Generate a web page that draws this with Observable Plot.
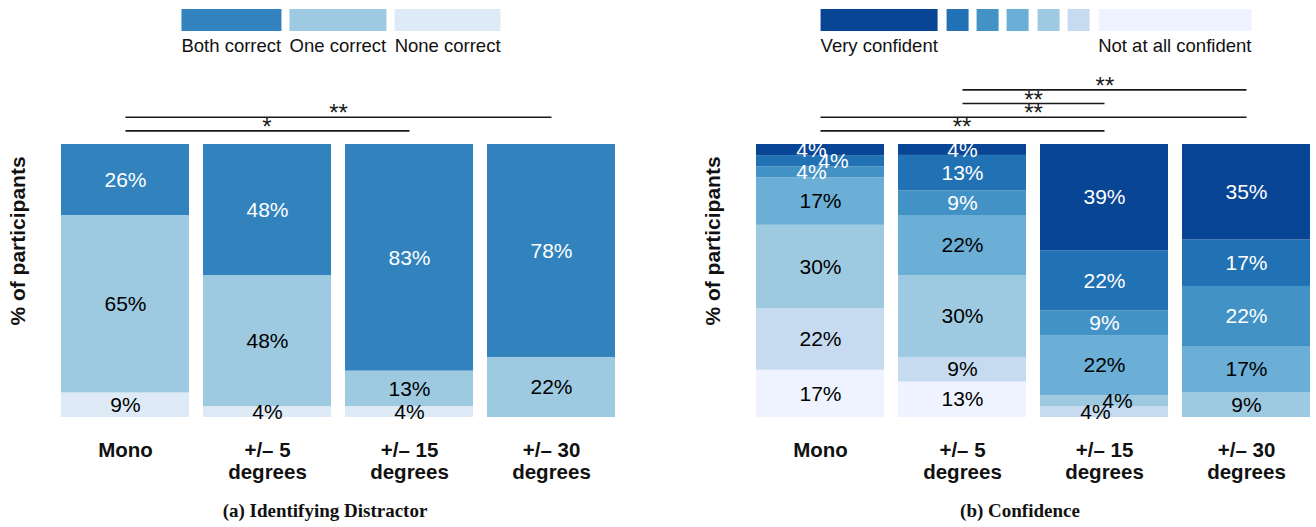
<!DOCTYPE html>
<html>
<head>
<meta charset="utf-8">
<script src="https://cdn.jsdelivr.net/npm/d3@7"></script>
<script src="https://cdn.jsdelivr.net/npm/@observablehq/plot@0.6"></script>
<style>
  html, body { margin: 0; padding: 0; background: #fff; overflow: hidden; }
  #figure { position: relative; width: 1316px; height: 527px; overflow: hidden;
            font-family: "Liberation Sans", Arial, Helvetica, sans-serif; color: #111; }
  .panel { position: absolute; top: 0; width: 631px; height: 527px; }
  .legend { position: absolute; top: 0; height: 60px; display: flex; gap: 8.4px;
            transform: translateX(-50%); white-space: nowrap; }
  .legend .item { display: flex; flex-direction: column; align-items: stretch; }
  .legend .swatch { margin-top: 9px; height: 21.5px; }
  .legend .label { margin-top: 5px; font-size: 18.5px; line-height: 20px; }
  .chart { position: absolute; top: 60px; left: 0; }
  .caption { position: absolute; top: 500px; height: 27px; line-height: 22px;
             font-family: "Liberation Serif", "Times New Roman", serif; font-weight: bold;
             font-size: 19px; transform: translateX(-50%); white-space: nowrap; }
</style>
</head>
<body>
<div id="figure"></div>
<script>
// Conditions shown along the x axis
const groups = ["Mono", "+/– 5\ndegrees", "+/– 15\ndegrees", "+/– 30\ndegrees"];
const yLabel = "% of participants";

// (a) Identifying the distractor: share of participants per outcome
const accuracyLevels = ["Both correct", "One correct", "None correct"];
const bothCorrect = [26, 48, 83, 78];
const oneCorrect  = [65, 48, 13, 22];
const noneCorrect = [9, 4, 4, 0];

// (b) Confidence ratings, 7 = very confident … 1 = not at all confident
const confidenceLevels = [7, 6, 5, 4, 3, 2, 1];
const confidenceEnds = ["Very confident", "Not at all confident"];
const confidence7 = [4, 4, 39, 35];
const confidence6 = [4, 13, 22, 17];
const confidence5 = [4, 9, 9, 22];
const confidence4 = [17, 22, 22, 17];
const confidence3 = [30, 30, 4, 9];
const confidence2 = [22, 9, 4, 0];
const confidence1 = [17, 13, 0, 0];

// Pairwise significance tests, listed from the lowest bracket up
const accuracyTests = [
  {a: "Mono", b: "+/– 15\ndegrees", stars: "*"},
  {a: "Mono", b: "+/– 30\ndegrees", stars: "**"}
];
const confidenceTests = [
  {a: "Mono", b: "+/– 15\ndegrees", stars: "**"},
  {a: "Mono", b: "+/– 30\ndegrees", stars: "**"},
  {a: "+/– 5\ndegrees", b: "+/– 15\ndegrees", stars: "**"},
  {a: "+/– 5\ndegrees", b: "+/– 30\ndegrees", stars: "**"}
];

const captions = ["(a) Identifying Distractor", "(b) Confidence"];

// ---- layout of one panel ----
const W = 631, H = 440, ML = 45, MR = 0, MT = 84, MB = 83;
const FONT = "'Liberation Sans', Arial, Helvetica, sans-serif";

// long table, stacked from the bottom level upward
function buildTable(levels, series, colors) {
  const rows = [];
  for (let li = levels.length - 1; li >= 0; --li) {
    groups.forEach((g, gi) => rows.push({group: g, level: levels[li], rank: li, value: series[li][gi], color: colors[li]}));
  }
  // ink colour follows the lightness of the segment's fill
  for (const r of rows) r.ink = d3.lab(r.color).l < 62 ? "white" : "black";
  // neighbouring thin segments get their labels pushed left/right alternately
  for (const r of rows) r.nudge = 0;
  for (const g of groups) {
    const col = rows.filter(r => r.group === g && r.value > 0).sort((p, q) => q.rank - p.rank); // bottom → top
    let run = [];
    const flush = () => { if (run.length > 1) run.forEach((r, k) => r.nudge = k % 2 === 0 ? -1 : 1); run = []; };
    for (const r of col) { if (r.value < 6) run.push(r); else flush(); }
    flush();
  }
  return rows;
}

function drawPanel(host, {levels, series, colors, tests, legendLabels, caption}) {
  const table = buildTable(levels, series, colors);
  const xOptions = {type: "band", domain: groups, range: [ML, W - MR], padding: 0.1};
  const xs = Plot.scale({x: xOptions});
  const center = g => xs.apply(g) + xs.bandwidth / 2;
  const bracketY = i => 1 + 0.05 * (i + 1);

  const stack = extra => Plot.stackY({x: "group", y: "value", z: "level", offset: "normalize", ...extra});

  const labelMarks = [];
  for (const ink of ["white", "black"]) {
    for (const n of [-1, 0, 1]) {
      labelMarks.push(Plot.text(table, stack({
        text: d => (d.value > 0 && d.ink === ink && d.nudge === n) ? `${d.value}%` : null,
        fill: ink, fontSize: 21, dx: n < 0 ? -9 : n > 0 ? 13 : 0
      })));
    }
  }

  const starMarks = tests.map((t, i) => Plot.text([t], {
    y: () => bracketY(i), text: "stars", frameAnchor: "left", textAnchor: "middle",
    dx: (center(t.a) + center(t.b)) / 2 - ML, dy: 4, lineAnchor: "bottom",
    fontSize: 24, fill: "#1a1a1a"
  }));

  const plot = Plot.plot({
    width: W, height: H, marginLeft: ML, marginRight: MR, marginTop: MT, marginBottom: MB,
    style: {fontFamily: FONT, fontSize: "18px", background: "white", overflow: "visible", color: "#111"},
    x: {domain: groups, padding: 0.1, axis: null},
    y: {domain: [0, 1], axis: null},
    color: {domain: levels, range: colors},
    marks: [
      Plot.barY(table, stack({fill: "level"})),
      ...labelMarks,
      Plot.link(tests, {
        x1: "a", x2: "b", y1: (d, i) => bracketY(i), y2: (d, i) => bracketY(i),
        stroke: "#1a1a1a", strokeWidth: 1.6
      }),
      ...starMarks,
      Plot.axisX({tickSize: 0, tickPadding: 24, fontSize: 20.5, fontWeight: "bold", lineHeight: 1.07, label: null, fill: "#111"}),
      Plot.text([yLabel], {
        text: d => d, frameAnchor: "left", textAnchor: "middle", rotate: -90, dx: 18 - ML, dy: -40,
        fontSize: 21, fontWeight: "bold", fill: "#111"
      })
    ]
  });
  plot.classList.add("chart");
  plot.querySelectorAll('[aria-label="x-axis tick label"] text').forEach(t => t.setAttribute("font-weight", "bold"));

  // legend from the colour scale
  const color = plot.scale("color");
  const legend = document.createElement("div");
  legend.className = "legend";
  legend.style.left = "341px";
  color.domain.forEach((lv, i) => {
    const item = document.createElement("div");
    item.className = "item";
    const sw = document.createElement("div");
    sw.className = "swatch";
    sw.style.background = color.range[i];
    const lab = document.createElement("div");
    lab.className = "label";
    const text = legendLabels(lv, i, color.domain.length);
    if (text) lab.textContent = text; else { lab.innerHTML = "&nbsp;"; item.style.width = "22px"; }
    item.append(sw, lab);
    legend.append(item);
  });

  const cap = document.createElement("div");
  cap.className = "caption";
  cap.style.left = "325px";
  cap.textContent = caption;

  host.append(legend, plot, cap);
}

const figure = document.getElementById("figure");
const left = document.createElement("div");
left.className = "panel"; left.style.left = "0px";
const right = document.createElement("div");
right.className = "panel"; right.style.left = "695px";
figure.append(left, right);

drawPanel(left, {
  levels: accuracyLevels,
  series: [bothCorrect, oneCorrect, noneCorrect],
  colors: d3.schemeBlues[3].slice().reverse(),
  tests: accuracyTests,
  legendLabels: lv => lv,
  caption: captions[0]
});

drawPanel(right, {
  levels: confidenceLevels,
  series: [confidence7, confidence6, confidence5, confidence4, confidence3, confidence2, confidence1],
  colors: d3.schemeBlues[7].slice().reverse(),
  tests: confidenceTests,
  legendLabels: (lv, i, n) => i === 0 ? confidenceEnds[0] : i === n - 1 ? confidenceEnds[1] : null,
  caption: captions[1]
});
</script>
</body>
</html>
